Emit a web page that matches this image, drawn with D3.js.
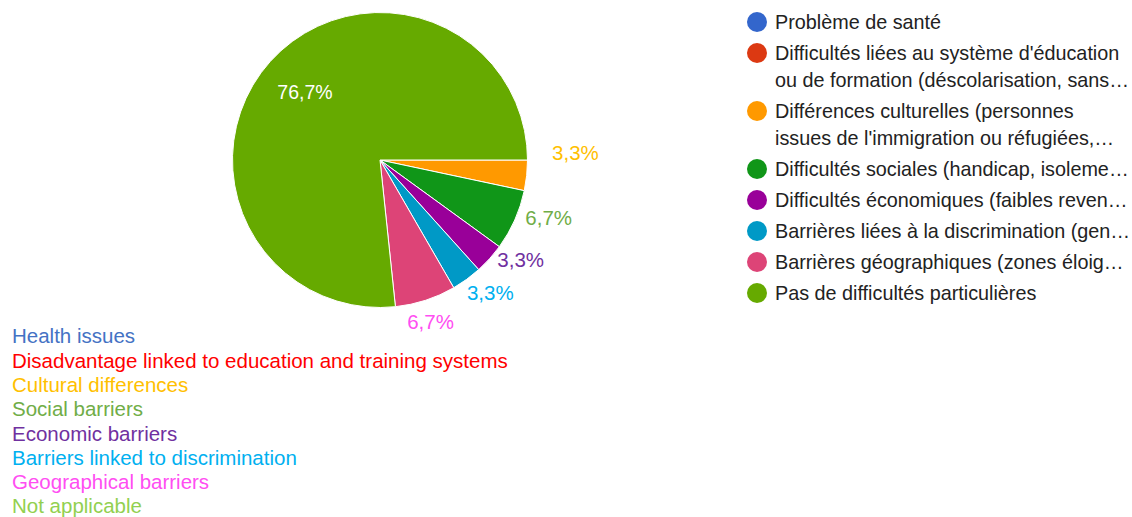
<!DOCTYPE html>
<html>
<head>
<meta charset="utf-8">
<script src="https://cdn.jsdelivr.net/npm/d3@7"></script>
<style>
  html, body { margin: 0; padding: 0; background: #fff; }
  svg { display: block; font-family: "Liberation Sans", Arial, sans-serif; }
</style>
</head>
<body>
<svg id="chart" width="1132" height="517"></svg>
<script>
// categories (French legend), response counts, slice colours
var categories = [
  ["Problème de santé"],
  ["Difficultés liées au système d'éducation", "ou de formation (déscolarisation, sans…"],
  ["Différences culturelles (personnes", "issues de l'immigration ou réfugiées,…"],
  ["Difficultés sociales (handicap, isoleme…"],
  ["Difficultés économiques (faibles reven…"],
  ["Barrières liées à la discrimination (gen…"],
  ["Barrières géographiques (zones éloig…"],
  ["Pas de difficultés particulières"]
];
var counts = [0, 0, 1, 2, 1, 1, 2, 23];
var sliceColors = ["#3366cc", "#dc3912", "#ff9900", "#109618", "#990099", "#0099c6", "#dd4477", "#66aa00"];

// percentage label colours and small nudges for the outside labels
var labelColors = ["#4472c4", "#ff0000", "#ffc000", "#70ad47", "#7030a0", "#00b0f0", "#ff4ef2", "#ffffff"];
var labelShift = [[0, 0], [0, 0], [3, -25], [-10, -11], [-9, -14], [-13, -5], [-2, 0], [0, 0]];

// English translations underneath
var englishLabels = ["Health issues", "Disadvantage linked to education and training systems", "Cultural differences",
  "Social barriers", "Economic barriers", "Barriers linked to discrimination", "Geographical barriers", "Not applicable"];
var englishColors = ["#4472c4", "#ff0000", "#ffc000", "#70ad47", "#7030a0", "#00b0f0", "#ff4ef2", "#92d050"];

var svg = d3.select("#chart");
var cx = 380, cy = 160, R = 147.5;
var total = d3.sum(counts);

var fmt = function(v) { return (Math.round(v / total * 1000) / 10).toFixed(1).replace(".", ",") + "%"; };

var pie = d3.pie().sort(null).value(function(d) { return d; })
  .startAngle(Math.PI / 2).endAngle(Math.PI / 2 + 2 * Math.PI);
var arcs = pie(counts).map(function(a, i) { a.index = i; return a; });

var arc = d3.arc().innerRadius(0).outerRadius(R);
var innerLabelArc = d3.arc().innerRadius(101).outerRadius(101);
var outerLabelArc = d3.arc().innerRadius(170).outerRadius(170);

var g = svg.append("g").attr("transform", "translate(" + cx + "," + cy + ")");

//* slices
g.selectAll("path.slice")
  .data(arcs.filter(function(d) { return d.value > 0; }))
  .enter().append("path")
  .attr("class", "slice")
  .attr("d", arc)
  .attr("fill", function(d) { return sliceColors[d.index]; })
  .attr("stroke", "#fff")
  .attr("stroke-width", 1);

//* percentage labels
g.selectAll("text.pct")
  .data(arcs.filter(function(d) { return d.value > 0; }))
  .enter().append("text")
  .attr("class", "pct")
  .each(function(d) {
    var big = (d.endAngle - d.startAngle) > Math.PI / 2;
    var p = big ? innerLabelArc.centroid(d) : outerLabelArc.centroid(d);
    var s = labelShift[d.index];
    var anchor = big || Math.abs(p[0]) < 60 ? "middle" : (p[0] > 0 ? "start" : "end");
    d3.select(this)
      .attr("x", p[0] + s[0])
      .attr("y", p[1] + s[1])
      .attr("dy", "0.35em")
      .attr("text-anchor", anchor);
  })
  .attr("font-size", function(d) { return (d.endAngle - d.startAngle) > Math.PI / 2 ? 19.5 : 20.5; })
  .attr("fill", function(d) { return labelColors[d.index]; })
  .text(function(d) { return fmt(d.value); });

//* legend
var rowCenters = [];
var yy = 22;
categories.forEach(function(lines) {
  rowCenters.push(yy);
  yy += 31 + (lines.length - 1) * 27;
});

var leg = svg.append("g");
var item = leg.selectAll("g.item")
  .data(categories)
  .enter().append("g")
  .attr("class", "item")
  .attr("transform", function(d, i) { return "translate(757," + rowCenters[i] + ")"; });

item.append("circle")
  .attr("r", 10)
  .attr("fill", function(d, i) { return sliceColors[i]; });

item.each(function(lines) {
  var t = d3.select(this).append("text")
    .attr("x", 18)
    .attr("y", 0)
    .attr("font-size", 19.8)
    .attr("fill", "#222");
  lines.forEach(function(line, j) {
    t.append("tspan").attr("x", 18).attr("dy", j === 0 ? "0.35em" : 27).text(line);
  });
});

//* english captions
svg.append("g").selectAll("text")
  .data(englishLabels)
  .enter().append("text")
  .attr("x", 12)
  .attr("y", function(d, i) { return 343.3 + i * 24.3; })
  .attr("font-size", 20.5)
  .attr("fill", function(d, i) { return englishColors[i]; })
  .text(function(d) { return d; });
</script>
</body>
</html>
